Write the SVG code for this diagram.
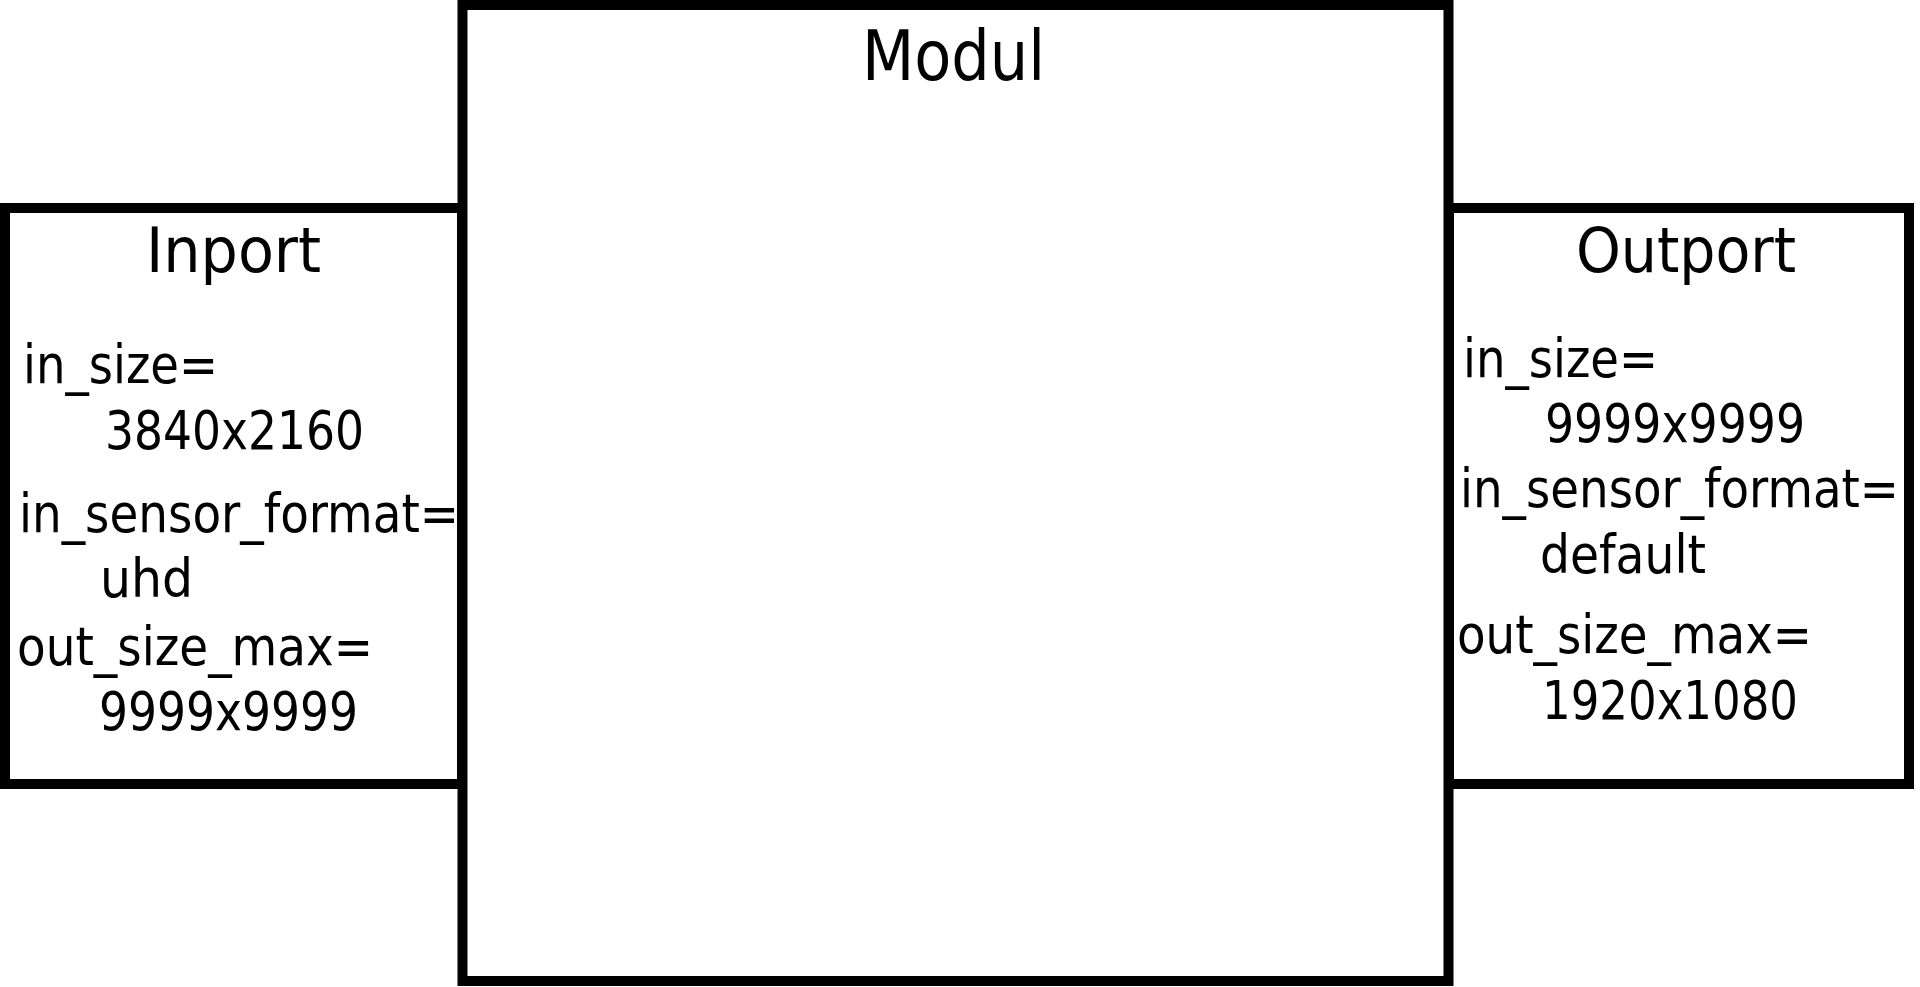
<svg xmlns="http://www.w3.org/2000/svg" width="1920" height="987" viewBox="0 0 1920 987">
<style>
.box{fill:#ffffff;stroke:#000000;stroke-width:10}
text{font-family:'DejaVu Sans Condensed','DejaVu Sans',sans-serif;font-stretch:condensed;fill:#000000}
.title{font-size:62px}
.big{font-size:70px}
.lbl{font-size:53px}
</style>
<rect x="0" y="0" width="1920" height="987" fill="#ffffff"/>
<g id="modul">
<rect class="box" x="462.5" y="5" width="986" height="976"/>
<text class="big" x="862" y="80" textLength="183" lengthAdjust="spacingAndGlyphs">Modul</text>
</g>
<g id="inport">
<rect class="box" x="5" y="208" width="457" height="576"/>
<text class="title" x="146" y="272" textLength="175" lengthAdjust="spacingAndGlyphs">Inport</text>
<text class="lbl" x="23" y="383" textLength="195" lengthAdjust="spacingAndGlyphs">in_size=</text>
<text class="lbl" x="105" y="449" textLength="259" lengthAdjust="spacingAndGlyphs">3840x2160</text>
<text class="lbl" x="19" y="532" textLength="440" lengthAdjust="spacingAndGlyphs">in_sensor_format=</text>
<text class="lbl" x="100" y="597" textLength="93" lengthAdjust="spacingAndGlyphs">uhd</text>
<text class="lbl" x="17" y="665" textLength="356" lengthAdjust="spacingAndGlyphs">out_size_max=</text>
<text class="lbl" x="99" y="730" textLength="259" lengthAdjust="spacingAndGlyphs">9999x9999</text>
</g>
<g id="outport">
<rect class="box" x="1449" y="208" width="460" height="576"/>
<text class="title" x="1576" y="272" textLength="220" lengthAdjust="spacingAndGlyphs">Outport</text>
<text class="lbl" x="1463" y="377" textLength="195" lengthAdjust="spacingAndGlyphs">in_size=</text>
<text class="lbl" x="1545" y="442" textLength="260" lengthAdjust="spacingAndGlyphs">9999x9999</text>
<text class="lbl" x="1460" y="507" textLength="439" lengthAdjust="spacingAndGlyphs">in_sensor_format=</text>
<text class="lbl" x="1540" y="573" textLength="166" lengthAdjust="spacingAndGlyphs">default</text>
<text class="lbl" x="1457" y="653" textLength="355" lengthAdjust="spacingAndGlyphs">out_size_max=</text>
<text class="lbl" x="1542" y="719" textLength="256" lengthAdjust="spacingAndGlyphs">1920x1080</text>
</g>
<g id="connectors"></g>
</svg>
